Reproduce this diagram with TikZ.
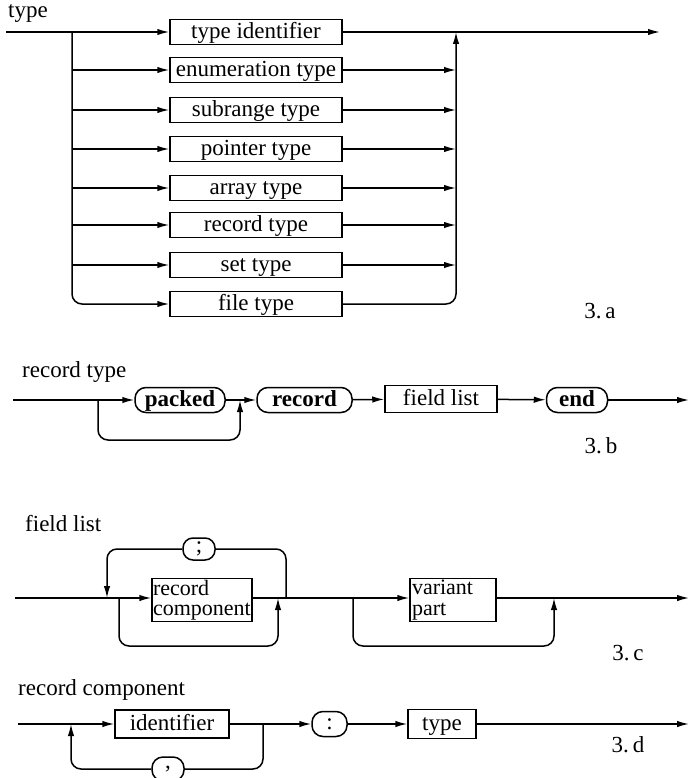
\documentclass[tikz,border=0pt]{standalone}
\usepackage{fontspec}
\setmainfont{Liberation Serif}
\usetikzlibrary{arrows.meta}
\begin{document}
\begin{tikzpicture}[x=1pt,y=-1pt,
  every node/.style={font=\fontsize{23}{20}\selectfont},
  ln/.style={line width=1.5pt},
  arr/.style={line width=1.5pt,-{Latex[length=12pt,width=6.5pt]}},
  rc/.style={rounded corners=10pt},
  box/.style={draw,line width=1.5pt,inner sep=0pt,minimum height=25pt,text height=17pt,text depth=4pt},
  term/.style={draw,line width=1.5pt,inner sep=0pt,minimum height=25pt,rounded corners=11pt,text height=17pt,text depth=4pt,font=\fontsize{23}{20}\selectfont\bfseries},
  twoline/.style={draw,line width=1.5pt,inner sep=1pt,minimum height=43pt,align=left,font=\fontsize{22}{20.5}\selectfont},
  oval/.style={draw,line width=1.5pt,inner sep=0pt,rounded corners=10pt},
  lbl/.style={anchor=base west,inner sep=0pt},
  tag/.style={inner sep=0pt}]
\useasboundingbox (0,0) rectangle (691,778);

% ---------- 3.a ----------
\node[lbl] (tlab) at (8,18) {type};
\coordinate (a0) at (6,32);
\coordinate (aL) at (72,32);
\coordinate (aR) at (456,32);
\coordinate (aEnd) at (660,32);
\node[box,minimum width=172pt] (b1) at (256,32) {type identifier};
\node[box,minimum width=172pt] (b2) at (256,70) {enumeration type};
\node[box,minimum width=172pt] (b3) at (256,110) {subrange type};
\node[box,minimum width=172pt] (b4) at (256,149) {pointer type};
\node[box,minimum width=172pt] (b5) at (256,188) {array type};
\node[box,minimum width=172pt] (b6) at (256,225) {record type};
\node[box,minimum width=172pt] (b7) at (256,265) {set type};
\node[box,minimum width=172pt] (b8) at (256,304) {file type};
\draw[ln] (a0) -- (aL);
\draw[arr] (aL) -- (b1.west);
\foreach \b in {b2,b3,b4,b5,b6,b7}{
  \draw[arr] (aL |- \b.west) -- (\b.west);
  \draw[arr] (\b.east) -- (aR |- \b.east);
}
\draw[arr,rc] (aL) |- (b8.west);
\draw[arr,rc] (b8.east) -| (aR);
\draw[ln] (b1.east) -- (aR);
\draw[arr] (aR) -- (aEnd);
\node[tag] (ta) at (600,311) {3.\,a};

% ---------- 3.b ----------
\node[lbl] (rlab) at (22,377) {record type};
\coordinate (b0) at (13,400);
\coordinate (bL) at (98,400);
\coordinate (bR) at (240,400);
\coordinate (bB) at (240,440);
\coordinate (bEnd) at (689,400);
\node[term,minimum width=90pt] (packed) at (180,400) {packed};
\node[term,minimum width=95pt] (record) at (304.5,400) {record};
\node[box,minimum width=112pt,minimum height=27pt] (fl) at (441,399) {field list};
\node[term,minimum width=61pt] (endk) at (577,400) {end};
\draw[ln] (b0) -- (bL);
\draw[arr] (bL) -- (packed);
\draw[arr,rc] (bL) |- (bB) -- (bR);
\draw[ln] (packed) -- (bR);
\draw[arr] (bR) -- (record);
\draw[arr] (record) -- (fl);
\draw[arr] (fl) -- (endk);
\draw[arr] (endk) -- (bEnd);
\node[tag] (tb) at (601,446) {3.\,b};

% ---------- 3.c ----------
\node[lbl] (flab) at (25,531) {field list};
\coordinate (c0) at (15,598);
\coordinate (cA) at (107,598);
\coordinate (cB) at (119,598);
\coordinate (cBb) at (119,646);
\coordinate (cC) at (278,598);
\coordinate (cCb) at (278,646);
\coordinate (cD) at (286,598);
\coordinate (cE) at (353,598);
\coordinate (cEb) at (353,646);
\coordinate (cF) at (554,598);
\coordinate (cFb) at (554,646);
\coordinate (cEnd) at (689,598);
\node[twoline,minimum width=100pt,text width=98pt] (rcomp) at (202,600) {record\\component};
\node[twoline,minimum width=86pt,text width=82pt] (vp) at (453,600) {variant\\part};
\node[oval,minimum width=32pt,minimum height=22pt] (semi) at (199,549) {;};
\draw[ln] (c0) -- (cB);
\draw[arr] (cB) -- (rcomp.west |- cB);
\draw[arr,rc] (cB) |- (cCb) -- (cC);
\draw[ln] (rcomp.east |- cD) -- (cE);
\draw[ln,rc] (cD) |- (semi.east);
\draw[arr,rc] (semi.west) -| (cA);
\draw[arr] (cE) -- (vp.west |- cE);
\draw[arr,rc] (cE) |- (cFb) -- (cF);
\draw[arr] (vp.east |- cF) -- (cEnd);
\node[tag] (tc) at (628,653) {3.\,c};

% ---------- 3.d ----------
\node[lbl] (clab) at (18,695) {record component};
\coordinate (d0) at (18,724);
\coordinate (dA) at (71,724);
\coordinate (dB) at (263,724);
\coordinate (dEnd) at (689,724);
\node[box,minimum width=114pt,minimum height=28pt] (idf) at (172,724) {identifier};
\node[oval,minimum width=35pt,minimum height=25pt,rounded corners=11pt] (colon) at (329.5,724) {:};
\node[box,minimum width=68pt,minimum height=29pt] (ty) at (442,724) {type};
\node[oval,minimum width=32pt,minimum height=24pt,rounded corners=11pt] (comma) at (168,769) {,};
\draw[ln] (d0) -- (dA);
\draw[arr] (dA) -- (idf);
\draw[ln] (idf) -- (dB);
\draw[arr] (dB) -- (colon);
\draw[arr] (colon) -- (ty);
\draw[arr] (ty) -- (dEnd);
\draw[ln,rc] (dB) |- (comma.east);
\draw[arr,rc] (comma.west) -| (dA);
\node[tag] (td) at (628,745) {3.\,d};
\end{tikzpicture}
\end{document}
